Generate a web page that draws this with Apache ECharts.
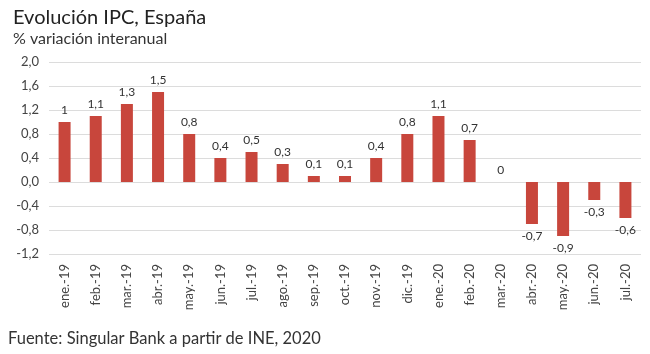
<!DOCTYPE html>
<html>
<head>
<meta charset="utf-8">
<script src="https://cdn.jsdelivr.net/npm/echarts@6/dist/echarts.min.js"></script>
<style>
  html, body { margin: 0; padding: 0; background: #fff; }
  #chart { width: 650px; height: 354px; }
</style>
</head>
<body>
<div id="chart"></div>
<script>
const months = ['ene.-19', 'feb.-19', 'mar.-19', 'abr.-19', 'may.-19', 'jun.-19', 'jul.-19',
  'ago.-19', 'sep.-19', 'oct.-19', 'nov.-19', 'dic.-19', 'ene.-20', 'feb.-20', 'mar.-20',
  'abr.-20', 'may.-20', 'jun.-20', 'jul.-20'];
const ipc = [1, 1.1, 1.3, 1.5, 0.8, 0.4, 0.5, 0.3, 0.1, 0.1, 0.4, 0.8, 1.1, 0.7, 0,
  -0.7, -0.9, -0.3, -0.6];

const fontFam = 'Lato, "Open Sans", sans-serif';
const comma = v => String(v).replace('.', ',');

const myChart = echarts.init(document.getElementById('chart'));
myChart.setOption({
  animation: false,
  textStyle: { fontFamily: fontFam },
  title: {
    text: 'Evolución IPC, España',
    subtext: '% variación interanual',
    left: 8,
    top: 3,
    itemGap: 3,
    textStyle: { fontSize: 20, fontWeight: 'normal', color: '#222', fontFamily: fontFam },
    subtextStyle: { fontSize: 16, color: '#333', fontFamily: fontFam }
  },
  graphic: [{
    type: 'text',
    left: 8,
    top: 330,
    style: { text: 'Fuente: Singular Bank a partir de INE, 2020', fontSize: 16.5, fill: '#333', fontFamily: fontFam }
  }],
  grid: { left: 49, right: 9, top: 62, bottom: 100 },
  xAxis: {
    type: 'category',
    data: months,
    axisLine: { show: false },
    axisTick: { show: false },
    axisLabel: { rotate: 90, interval: 0, fontSize: 13, color: '#444', margin: 10 }
  },
  yAxis: {
    type: 'value',
    min: -1.2,
    max: 2.0,
    interval: 0.4,
    axisLabel: {
      fontSize: 13, color: '#444', margin: 10,
      formatter: v => v.toFixed(1).replace('.', ',')
    },
    splitLine: { lineStyle: { color: '#dcdcdc', width: 1 } }
  },
  series: [{
    type: 'bar',
    barWidth: 12,
    itemStyle: { color: '#c8463c' },
    data: ipc.map(v => ({
      value: v,
      label: { position: v < 0 ? 'bottom' : 'top' }
    })),
    label: {
      show: true,
      fontSize: 12,
      color: '#333',
      distance: 6,
      formatter: p => comma(p.value)
    }
  }]
});
</script>
</body>
</html>
